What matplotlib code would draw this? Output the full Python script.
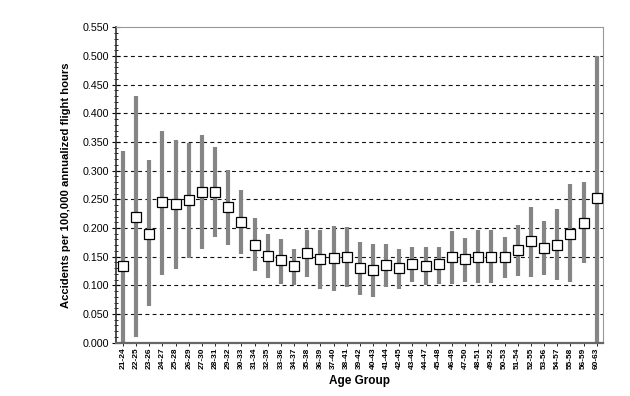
import matplotlib
matplotlib.use("Agg")
import matplotlib.pyplot as plt
from matplotlib.ticker import MultipleLocator, FormatStrFormatter

plt.rcParams['font.family'] = ['Liberation Sans', 'DejaVu Sans']

age_groups = ["21-24", "22-25", "23-26", "24-27", "25-28", "26-29", "27-30", "28-31",
              "29-32", "30-33", "31-34", "32-35", "33-36", "34-37", "35-38", "36-39",
              "37-40", "38-41", "39-42", "40-43", "41-44", "42-45", "43-46", "44-47",
              "45-48", "46-49", "47-50", "48-51", "49-52", "50-53", "51-54", "52-55",
              "53-56", "54-57", "55-58", "56-59", "60-63"]
rate = [0.133, 0.220, 0.190, 0.245, 0.241, 0.249, 0.263, 0.263, 0.236, 0.210,
        0.171, 0.151, 0.145, 0.133, 0.156, 0.146, 0.147, 0.150, 0.130, 0.126,
        0.136, 0.130, 0.137, 0.134, 0.137, 0.150, 0.146, 0.150, 0.150, 0.149,
        0.161, 0.178, 0.165, 0.171, 0.190, 0.209, 0.252]
upper = [0.334, 0.430, 0.318, 0.370, 0.353, 0.349, 0.363, 0.341, 0.301, 0.267,
         0.217, 0.189, 0.180, 0.164, 0.197, 0.197, 0.204, 0.201, 0.175, 0.172,
         0.172, 0.164, 0.167, 0.167, 0.167, 0.195, 0.183, 0.197, 0.197, 0.184,
         0.205, 0.237, 0.213, 0.234, 0.276, 0.281, 0.500]
lower = [0.000, 0.010, 0.064, 0.118, 0.128, 0.147, 0.163, 0.185, 0.170, 0.154,
         0.125, 0.113, 0.102, 0.101, 0.115, 0.093, 0.091, 0.097, 0.083, 0.079,
         0.098, 0.094, 0.105, 0.101, 0.103, 0.103, 0.106, 0.104, 0.104, 0.113,
         0.117, 0.115, 0.118, 0.109, 0.106, 0.139, 0.000]

fig = plt.figure(figsize=(6.3, 3.96), dpi=100)
ax = fig.add_axes([115.7 / 630, 1 - 342.7 / 396, (603.3 - 115.7) / 630, (342.7 - 27.3) / 396])

x = list(range(len(age_groups)))

# grid lines
for g in [0.05 * k for k in range(1, 11)]:
    ax.axhline(g, color="#111111", linestyle=(0, (3.5, 3)), linewidth=0.8, zorder=1)

ax.vlines(x, lower, upper, colors="#858585", linewidth=3.0, zorder=2)
ax.plot(x, rate, linestyle="none", marker="s", markersize=6.8,
        markerfacecolor="white", markeredgecolor="black", markeredgewidth=0.9, zorder=3)

ax.set_xlim(-0.55, 36.5)
ax.set_ylim(0, 0.55)
ax.yaxis.set_major_locator(MultipleLocator(0.05))
ax.yaxis.set_minor_locator(MultipleLocator(0.01))
ax.yaxis.set_major_formatter(FormatStrFormatter("%.3f"))

ax.set_xticks(x)
ax.set_xticklabels(age_groups, rotation=90, fontsize=6, fontweight="bold")
ax.tick_params(axis="x", length=2, width=0.6, pad=1.5)
ax.tick_params(axis="y", which="major", direction="inout", length=6, width=0.8, labelsize=7.7, pad=2)
ax.tick_params(axis="y", which="minor", direction="inout", length=3, width=0.6)

for side in ["top", "right"]:
    ax.spines[side].set_color("#999999")
    ax.spines[side].set_linewidth(0.8)
ax.spines["left"].set_color("#333333")
ax.spines["left"].set_linewidth(1.2)
ax.spines["bottom"].set_color("#666666")
ax.spines["bottom"].set_linewidth(1.6)

ax.set_xlabel("Age Group", fontsize=8.5, fontweight="bold", labelpad=4)
ax.set_ylabel("Accidents per 100,000 annualized flight hours", fontsize=8.1,
              fontweight="bold", labelpad=8)

fig.savefig("out.png", dpi=100)
